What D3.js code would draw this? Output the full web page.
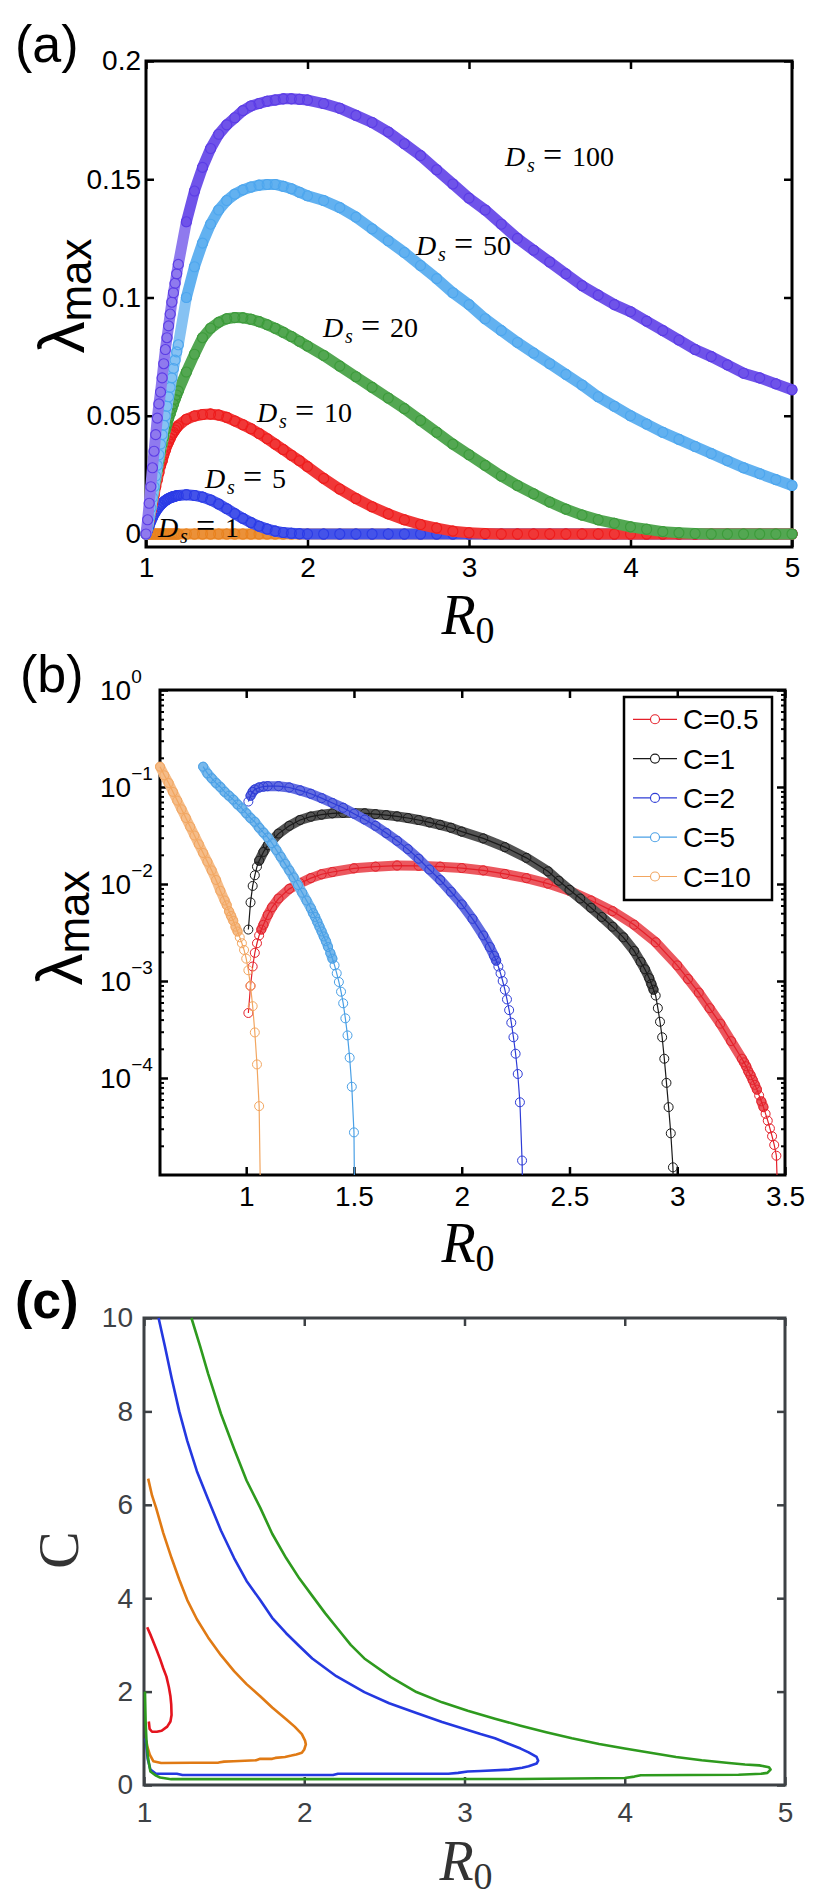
<!DOCTYPE html>
<html><head><meta charset="utf-8">
<script src="https://cdn.jsdelivr.net/npm/d3@7/dist/d3.min.js"></script>
<style>html,body{margin:0;padding:0;background:#fff}svg{display:block}</style>
</head><body>
<svg id="fig" width="816" height="1896" xmlns="http://www.w3.org/2000/svg"></svg>
<script>
// ================= Panel (a) data =================
const r0A = [1.00,1.01,1.02,1.03,1.04,1.05,1.06,1.07,1.08,1.09,
  1.10,1.11,1.12,1.13,1.14,1.15,1.16,1.17,1.18,1.19,
  1.20,1.25,1.30,1.35,1.40,1.45,1.50,1.55,1.60,1.65,
  1.70,1.75,1.80,1.85,1.90,1.95,2.00,2.1,2.2,2.3,
  2.4,2.5,2.6,2.7,2.8,2.9,3.0,3.1,3.2,3.3,
  3.4,3.5,3.6,3.7,3.8,3.9,4.0,4.1,4.2,4.3,
  4.4,4.5,4.6,4.7,4.8,4.9,5.0];
const lamDs1 = [0,0,0,0,0,0,0,0,0,0, 0,0,0,0,0,0,0,0,0,0, 0,0,0,0,0,0,0,0,0,0,
  0,0,0,0,0,0,0,0,0,0, 0,0,0,0,0,0,0,0,0,0, 0,0,0,0,0,0,0,0,0,0, 0,0,0,0,0,0,0];
const lamDs5 = [0,.0017,.0036,.0054,.0070,.0084,.0096,.0106,.0115,.0123,
  .0130,.0136,.0141,.0146,.0150,.0153,.0156,.0158,.0160,.0162,
  .0163,.0166,.0163,.0156,.0144,.0127,.0107,.0086,.0066,.0048,
  .0033,.0021,.0012,.0006,.0003,.0001,0,0,0,0,
  0,0,0,0,0,0,0,0,0,0, 0,0,0,0,0,0,0,0,0,0, 0,0,0,0,0,0,0];
const lamDs10 = [0,.003,.006,.0095,.013,.0165,.020,.023,.026,.029,
  .031,.0335,.0355,.0375,.039,.0405,.042,.043,.044,.045,
  .0458,.0485,.0499,.0505,.0507,.0503,.0493,.0478,.0462,.0445,
  .0425,.0403,.038,.0357,.0333,.031,.0285,.0235,.019,.015,
  .0115,.0085,.006,.004,.0025,.0012,.0005,.0002,0,0,
  0,0,0,0,0,0,0,0,0,0, 0,0,0,0,0,0,0];
const lamDs20 = [0,.003,.007,.011,.015,.019,.023,.027,.031,.035,
  .038,.041,.044,.0465,.049,.051,.053,.055,.057,.0588,
  .0605,.0685,.076,.083,.087,.0895,.091,.0915,.0914,.0908,
  .0898,.0885,.087,.0853,.0835,.0815,.0795,.0755,.071,.0665,
  .062,.0575,.053,.048,.043,.038,.0335,.029,.0245,.0205,
  .017,.0135,.0105,.008,.006,.0045,.003,.002,.001,.0005,
  .0002,0,0,0,0,0,0];
const lamDs50 = [0,.003,.007,.011,.0155,.020,.0245,.029,.0335,.038,
  .042,.046,.050,.054,.058,.062,.066,.070,.0735,.077,
  .080,.100,.113,.123,.131,.137,.141,.1437,.1455,.1467,
  .1475,.1478,.1478,.147,.146,.1445,.143,.141,.138,.134,
  .129,.124,.119,.1135,.108,.102,.097,.091,.086,.081,
  .0765,.072,.0675,.063,.058,.054,.050,.0465,.043,.040,
  .037,.034,.031,.028,.0255,.023,.0205];
const lamDs100 = [0,.006,.013,.020,.028,.035,.042,.049,.055,.060,
  .066,.072,.078,.083,.088,.093,.098,.102,.106,.110,
  .114,.132,.145,.155,.163,.169,.173,.176,.179,.181,
  .182,.183,.1835,.184,.184,.1838,.1835,.182,.180,.177,
  .174,.170,.165,.160,.154,.148,.142,.137,.131,.125,
  .120,.115,.110,.105,.101,.097,.094,.090,.086,.082,
  .078,.075,.0715,.068,.066,.0635,.061];
const dsNames = ["1","5","10","20","50","100"];
const dsColors = ["#E8821E","#2B3BE6","#EE1C1C","#3C9B3A","#4DA6EE","#5B3CE6"];
const xTicksA = [1,2,3,4,5], xLabelsA = ["1","2","3","4","5"];
const yTicksA = [0,0.05,0.1,0.15,0.2], yLabelsA = ["0","0.05","0.1","0.15","0.2"];

// ================= Panel (b) data =================
const r0C05 = [1.01,1.02,1.03,1.04,1.05,1.06,1.07,1.08,1.10,1.12,1.15,1.20,1.25,1.30,1.35,1.40,
  1.50,1.60,1.70,1.80,1.90,2.00,2.10,2.20,2.30,2.40,2.50,2.60,2.70,2.80,2.90,3.00,
  3.05,3.10,3.15,3.20,3.25,3.30,3.31,3.32,3.33,3.34,3.35,3.36,3.37,3.38,3.39,3.40,3.41,3.42,3.43,3.44,3.45,3.46,3.47];
const lamC05 = [4.68e-4,8.91e-4,1.41e-3,1.95e-3,2.45e-3,2.95e-3,3.39e-3,3.80e-3,4.79e-3,5.75e-3,7.08e-3,8.91e-3,1.02e-2,1.15e-2,1.26e-2,1.33e-2,
  1.45e-2,1.51e-2,1.55e-2,1.54e-2,1.51e-2,1.46e-2,1.38e-2,1.27e-2,1.15e-2,1.01e-2,8.51e-3,6.76e-3,5.25e-3,3.80e-3,2.51e-3,1.45e-3,
  1.05e-3,7.59e-4,5.25e-4,3.63e-4,2.40e-4,1.58e-4,1.45e-4,1.32e-4,1.17e-4,1.07e-4,9.55e-5,8.51e-5,7.59e-5,6.61e-5,5.75e-5,5.01e-5,4.27e-5,3.63e-5,3.02e-5,2.51e-5,2.04e-5,1.58e-5,3.2e-6];
const r0C1 = [1.01,1.02,1.03,1.04,1.05,1.06,1.08,1.10,
  1.15,1.20,1.25,1.30,1.35,1.40,1.45,1.50,1.55,1.60,1.65,1.70,1.75,1.80,1.85,1.90,1.95,2.00,
  2.10,2.20,2.30,2.40,2.45,2.50,2.55,2.60,2.65,2.70,2.75,2.80,2.83,2.85,2.87,
  2.88,2.89,2.90,2.91,2.92,2.93,2.94,2.95,2.96,2.97,2.98,2.99];
const lamC1 = [3.39e-3,6.46e-3,9.55e-3,1.23e-2,1.51e-2,1.74e-2,2.14e-2,2.51e-2,
  3.31e-2,3.98e-2,4.57e-2,4.95e-2,5.19e-2,5.35e-2,5.40e-2,5.40e-2,5.35e-2,5.25e-2,5.13e-2,4.98e-2,4.79e-2,4.57e-2,4.32e-2,4.07e-2,3.80e-2,3.47e-2,
  2.95e-2,2.40e-2,1.86e-2,1.35e-2,1.08e-2,8.71e-3,7.08e-3,5.69e-3,4.57e-3,3.63e-3,2.82e-3,2.04e-3,1.58e-3,1.32e-3,1.07e-3,
  9.33e-4,8.13e-4,7.08e-4,5.25e-4,3.80e-4,2.63e-4,1.58e-4,8.91e-5,5.01e-5,2.69e-5,1.20e-5,1e-6];
const r0C2 = [1.01,1.02,1.03,1.04,1.06,1.08,1.10,
  1.15,1.20,1.25,1.30,1.35,1.40,1.45,1.50,1.55,1.60,1.65,1.70,1.75,1.80,1.85,1.90,1.95,2.00,2.05,2.10,
  2.13,2.15,2.16,2.17,2.18,2.19,2.20,2.21,2.22,2.23,2.24,2.25,2.26,2.27,2.28,2.29];
const lamC2 = [7.08e-2,8.13e-2,8.91e-2,9.44e-2,9.89e-2,0.101,0.102,
  0.102,9.89e-2,9.23e-2,8.51e-2,7.67e-2,6.84e-2,6.10e-2,5.31e-2,4.62e-2,3.98e-2,3.35e-2,2.79e-2,2.29e-2,1.82e-2,1.41e-2,1.10e-2,8.32e-3,6.17e-3,4.37e-3,2.95e-3,
  2.24e-3,1.82e-3,1.62e-3,1.41e-3,1.20e-3,1.00e-3,8.13e-4,6.46e-4,5.01e-4,3.72e-4,2.63e-4,1.78e-4,1.10e-4,5.62e-5,1.41e-5,1e-6];
const r0C5 = [0.80,0.82,0.84,0.86,0.88,0.90,0.92,0.94,0.96,0.98,1.00,1.02,1.04,1.06,1.08,1.10,1.12,1.14,1.16,1.18,1.20,1.22,1.24,1.26,1.28,1.30,
  1.31,1.32,1.33,1.34,1.35,1.36,1.37,1.38,1.39,1.40,1.41,1.42,1.43,1.44,1.45,1.46,1.47,1.48,1.49,1.50,1.51];
const lamC5 = [0.162,0.138,0.123,0.110,0.100,8.91e-2,8.13e-2,7.41e-2,6.61e-2,6.03e-2,5.37e-2,4.79e-2,4.37e-2,3.80e-2,3.39e-2,3.02e-2,2.63e-2,2.24e-2,1.91e-2,1.62e-2,1.38e-2,1.17e-2,9.77e-3,8.13e-3,6.76e-3,5.62e-3,
  5.01e-3,4.57e-3,4.07e-3,3.63e-3,3.24e-3,2.88e-3,2.57e-3,2.24e-3,1.95e-3,1.70e-3,1.45e-3,1.20e-3,9.77e-4,7.76e-4,5.89e-4,4.12e-4,2.75e-4,1.62e-4,8.13e-5,2.75e-5,1e-7];
const r0C10 = [0.60,0.62,0.64,0.66,0.68,0.70,0.72,0.74,0.76,0.78,0.80,0.82,0.84,0.86,0.88,0.90,
  0.91,0.92,0.93,0.94,0.95,0.96,0.97,0.98,0.99,1.00,1.01,1.02,1.03,1.04,1.05,1.06,1.07];
const lamC10 = [0.162,0.132,0.110,8.91e-2,7.24e-2,5.89e-2,4.79e-2,3.89e-2,3.16e-2,2.57e-2,2.09e-2,1.70e-2,1.38e-2,1.10e-2,8.51e-3,6.76e-3,
  6.03e-3,5.25e-3,4.68e-3,4.17e-3,3.63e-3,3.24e-3,2.82e-3,2.45e-3,2.09e-3,1.70e-3,1.29e-3,8.91e-4,5.50e-4,2.95e-4,1.38e-4,5.13e-5,1.6e-6];
const cNames = ["C=0.5","C=1","C=2","C=5","C=10"];
const cColors = ["#E4202A","#1A1A1A","#2E3CD6","#4AA0E6","#F2A660"];
const xTicksB = [1,1.5,2,2.5,3,3.5], xLabelsB = ["1","1.5","2","2.5","3","3.5"];
const yTicksB = [1e-4,1e-3,1e-2,1e-1,1], yExpB = ["\u22124","\u22123","\u22122","\u22121","0"];

// ================= Panel (c) data =================
const redR0 = [1.02,1.04,1.06,1.08,1.10,1.12,1.14,1.155,1.165,1.17,1.172,1.165,1.145,1.11,1.08,1.05,1.035,1.03];
const redC  = [3.38,3.22,3.05,2.88,2.70,2.50,2.32,2.10,1.90,1.72,1.50,1.36,1.25,1.16,1.14,1.14,1.20,1.36];
const orangeR0 = [1.026,1.05,1.075,1.12,1.172,1.22,1.27,1.33,1.40,1.48,1.562,1.64,1.725,1.80,1.887,1.94,1.985,2.005,2.01,2.0,1.985,1.95,1.92,1.88,1.82,1.80,1.725,1.70,1.56,1.50,1.465,1.30,1.107,1.058,1.036,1.02,1.015];
const orangeC  = [6.56,6.20,5.94,5.40,4.86,4.40,3.96,3.55,3.16,2.78,2.44,2.16,1.90,1.66,1.41,1.25,1.09,0.95,0.87,0.76,0.69,0.655,0.63,0.60,0.58,0.56,0.56,0.53,0.51,0.50,0.48,0.475,0.47,0.51,0.65,0.83,0.95];
const blueR0 = [1.091,1.13,1.172,1.22,1.27,1.33,1.40,1.48,1.562,1.64,1.725,1.80,1.887,1.97,2.05,2.2,2.375,2.53,2.70,2.86,3.02,3.10,3.19,3.27,3.35,3.40,3.45,3.46,3.45,3.40,3.36,3.28,3.10,3.02,2.96,2.90,2.21,2.18,1.24,1.205,1.075,1.04,1.023,1.013,1.01];
const blueC  = [10,9.4,8.72,8.0,7.37,6.72,6.12,5.45,4.86,4.37,3.96,3.58,3.25,2.97,2.71,2.33,1.99,1.75,1.54,1.35,1.18,1.09,1.0,0.89,0.78,0.70,0.60,0.52,0.46,0.40,0.37,0.33,0.30,0.29,0.26,0.24,0.24,0.215,0.215,0.24,0.24,0.33,0.56,0.91,1.0];
const greenR0 = [1.296,1.35,1.40,1.48,1.562,1.64,1.725,1.80,1.887,1.97,2.05,2.13,2.21,2.29,2.375,2.54,2.70,2.86,3.02,3.19,3.35,3.51,3.67,3.84,4.0,4.16,4.32,4.48,4.65,4.75,4.84,4.90,4.91,4.89,4.85,4.71,4.10,4.06,4.0,3.35,2.05,1.17,1.10,1.075,1.04,1.026,1.016,1.01,1.006];
const greenC  = [10,9.4,8.81,7.95,7.2,6.52,5.94,5.38,4.86,4.42,4.05,3.68,3.34,3.00,2.71,2.31,1.99,1.77,1.59,1.42,1.27,1.13,1.0,0.88,0.78,0.69,0.60,0.53,0.47,0.44,0.42,0.38,0.33,0.26,0.24,0.22,0.21,0.18,0.15,0.13,0.125,0.125,0.16,0.20,0.29,0.56,0.91,1.36,2.0];
const contourColors = ["#E4141E","#E07A14","#2438E0","#2E9A1E"];
const xTicksC = [1,2,3,4,5], xLabelsC = ["1","2","3","4","5"];
const yTicksC = [0,2,4,6,8,10], yLabelsC = ["0","2","4","6","8","10"];

// ================= drawing =================
const svg = d3.select("#fig");
const SANS = "'Liberation Sans', Arial, Helvetica, sans-serif";
const SERIF = "'Liberation Serif', 'Times New Roman', serif";
const mix = (c, t) => d3.interpolateRgb(c, "#ffffff")(t);

function styleAxis(s, color, tw) {
  s.select(".domain").remove();
  s.attr("font-family", SANS).attr("font-size", 28);
  s.selectAll(".tick line").attr("stroke", color).attr("stroke-width", tw);
  s.selectAll(".tick text").attr("fill", color);
}
function frame(g, r, x, y, o) {
  const col = o.color, tl = 8;
  g.append("g").attr("transform", `translate(0,${r.b})`)
    .call(d3.axisBottom(x).tickValues(o.xt).tickFormat((d, i) => o.xl[i]).tickSize(-tl).tickPadding(o.xp))
    .call(s => styleAxis(s, col, 2.5));
  g.append("g").attr("transform", `translate(0,${r.t})`)
    .call(d3.axisTop(x).tickValues(o.xt).tickFormat("").tickSize(-tl))
    .call(s => { styleAxis(s, col, 2.5); s.selectAll(".tick text").remove(); });
  g.append("g").attr("transform", `translate(${r.l},0)`)
    .call(d3.axisLeft(y).tickValues(o.yt).tickFormat(o.yl ? (d, i) => o.yl[i] : "").tickSize(-tl).tickPadding(o.yp || 5))
    .call(s => { styleAxis(s, col, 2.5); if (!o.yl) s.selectAll(".tick text").remove(); });
  g.append("g").attr("transform", `translate(${r.r},0)`)
    .call(d3.axisRight(y).tickValues(o.yt).tickFormat("").tickSize(-tl))
    .call(s => { styleAxis(s, col, 2.5); s.selectAll(".tick text").remove(); });
  g.append("rect").attr("x", r.l).attr("y", r.t).attr("width", r.r - r.l).attr("height", r.b - r.t)
    .attr("fill", "none").attr("stroke", col).attr("stroke-width", 3);
}
function panelLabel(txt, x, y, bold) {
  svg.append("text").attr("x", x).attr("y", y).attr("font-family", SANS).attr("font-size", 52)
    .attr("font-weight", bold ? "bold" : "normal").text(txt);
}
function r0Label(cx, y, color) {
  const t = svg.append("text").attr("x", cx).attr("y", y).attr("text-anchor", "middle")
    .attr("font-family", SERIF).attr("fill", color || "#000");
  t.append("tspan").attr("font-size", 56).attr("font-style", "italic").text("R");
  t.append("tspan").attr("font-size", 38).attr("dy", 9).text("0");
}
function lambdaLabel(x, cy) {
  const t = svg.append("text").attr("transform", `translate(${x},${cy}) rotate(-90)`)
    .attr("text-anchor", "middle").attr("font-family", SANS);
  t.append("tspan").attr("font-size", 64).text("\u03bb");
  t.append("tspan").attr("font-size", 44).attr("dy", 7).text("max");
}

// ---------- Panel (a) ----------
const A = {l: 146, r: 792, t: 61, b: 547};
const xA = d3.scaleLinear().domain([1, 5]).range([A.l, A.r]);
const yA = d3.scaleLinear().domain([-0.0055, 0.2]).range([A.b, A.t]);
const gA = svg.append("g");
frame(gA, A, xA, yA, {color: "#000", xt: xTicksA, xl: xLabelsA, xp: 10, yt: yTicksA, yl: yLabelsA, yp: 5});
const seriesA = [lamDs1, lamDs5, lamDs10, lamDs20, lamDs50, lamDs100];
seriesA.forEach((vals, si) => {
  const c = dsColors[si];
  const pts = r0A.map((r, i) => [xA(r), yA(vals[i]), r]);
  const g = gA.append("g");
  const segs = d3.range(pts.length - 1).map(i => {
    const a = pts[i], b = pts[i + 1];
    const per = Math.abs(b[1] - a[1]) / ((b[2] - a[2]) / 0.01);
    return {a, b, steep: per > 7};
  });
  [true, false].forEach(st => {
    g.selectAll(null).data(segs.filter(s => s.steep === st)).join("line")
      .attr("x1", d => d.a[0]).attr("y1", d => d.a[1]).attr("x2", d => d.b[0]).attr("y2", d => d.b[1])
      .attr("stroke", mix(c, st ? 0.32 : 0.12)).attr("stroke-width", 11).attr("stroke-linecap", "round");
  });
  g.selectAll("circle").data(pts).join("circle")
    .attr("cx", d => d[0]).attr("cy", d => d[1]).attr("r", 5)
    .attr("fill", "none").attr("stroke", c).attr("stroke-width", 1.1);
});
// annotations
const annA = [[505, 166], [416, 255], [323, 337], [257, 422], [205, 488], [158, 537]];
const annOrder = ["100", "50", "20", "10", "5", "1"];
annOrder.forEach((n, i) => {
  const [x0, yb] = annA[i];
  const t = gA.append("text").attr("font-family", SERIF).attr("font-size", 28).attr("y", yb);
  t.append("tspan").attr("x", x0).attr("font-style", "italic").text("D");
  t.append("tspan").attr("x", x0 + 22).attr("dy", 6).attr("font-size", 20).attr("font-style", "italic").text("s");
  t.append("tspan").attr("x", x0 + 38).attr("dy", -6).attr("font-size", 34).text("=");
  t.append("tspan").attr("x", x0 + 67).text(n);
});
panelLabel("(a)", 15, 62, false);
r0Label(468, 634);
lambdaLabel(84, 296);

// ---------- Panel (b) ----------
const B = {l: 160, r: 785, t: 690, b: 1175};
const xB = d3.scaleLinear().domain([0.6, 3.5]).range([B.l, B.r]);
const yB = d3.scaleLog().domain([1e-5, 1]).range([B.b, B.t]);
const gB = svg.append("g");
frame(gB, B, xB, yB, {color: "#000", xt: xTicksB, xl: xLabelsB, xp: 11, yt: yTicksB, yl: null});
const minorB = [];
[-5, -4, -3, -2, -1].forEach(e => [2, 3, 4, 5, 6, 7, 8, 9].forEach(k => minorB.push(k * Math.pow(10, e))));
gB.append("g").attr("transform", `translate(${B.l},0)`).call(d3.axisLeft(yB).tickValues(minorB).tickFormat("").tickSize(-4))
  .call(s => { styleAxis(s, "#000", 2); s.selectAll(".tick text").remove(); });
gB.append("g").attr("transform", `translate(${B.r},0)`).call(d3.axisRight(yB).tickValues(minorB).tickFormat("").tickSize(-4))
  .call(s => { styleAxis(s, "#000", 2); s.selectAll(".tick text").remove(); });
yTicksB.forEach((v, i) => {
  const t = gB.append("text").attr("x", 100).attr("y", yB(v) + 10).attr("font-family", SANS).attr("font-size", 28);
  t.append("tspan").text("10");
  t.append("tspan").attr("dy", -17).attr("font-size", 19).text(yExpB[i]);
});
svg.append("defs").append("clipPath").attr("id", "clipB").append("rect")
  .attr("x", B.l - 6).attr("y", B.t - 10).attr("width", B.r - B.l + 16).attr("height", B.b - B.t + 10);
const dataB = [[r0C05, lamC05], [r0C1, lamC1], [r0C2, lamC2], [r0C5, lamC5], [r0C10, lamC10]];
const gBd = gB.append("g").attr("clip-path", "url(#clipB)");
dataB.forEach(([xs, vs], si) => {
  const c = cColors[si];
  const pts = xs.map((r, i) => [xB(r), yB(Math.max(vs[i], 1e-9)), r, vs[i]]);
  const g = gBd.append("g");
  const segs = d3.range(pts.length - 1).map(i => {
    const a = pts[i], b = pts[i + 1], st = (b[2] - a[2]) / 0.01;
    return {a, b, d: Math.hypot((b[0] - a[0]) / st, (b[1] - a[1]) / st)};
  }).filter(s => s.d < 6.2);
  g.selectAll("line").data(segs).join("line")
    .attr("x1", d => d.a[0]).attr("y1", d => d.a[1]).attr("x2", d => d.b[0]).attr("y2", d => d.b[1])
    .attr("stroke", mix(c, 0.25)).attr("stroke-width", 10).attr("stroke-linecap", "round");
  g.append("path").attr("d", d3.line()(pts.map(p => [p[0], p[1]]))).attr("fill", "none")
    .attr("stroke", c).attr("stroke-width", 1.2);
  g.selectAll("circle").data(pts.filter(p => p[3] >= 1e-5)).join("circle")
    .attr("cx", d => d[0]).attr("cy", d => d[1]).attr("r", 4.5)
    .attr("fill", "none").attr("stroke", c).attr("stroke-width", 1);
});
// legend
const lg = gB.append("g");
lg.append("rect").attr("x", 624).attr("y", 697).attr("width", 148).attr("height", 203)
  .attr("fill", "#fff").attr("stroke", "#000").attr("stroke-width", 2.5);
cNames.forEach((n, i) => {
  const yy = 719.3 + i * 39.3;
  lg.append("line").attr("x1", 633).attr("x2", 677).attr("y1", yy).attr("y2", yy).attr("stroke", cColors[i]).attr("stroke-width", 1.2);
  lg.append("circle").attr("cx", 655).attr("cy", yy).attr("r", 4.5).attr("fill", "#fff").attr("stroke", cColors[i]).attr("stroke-width", 1.1);
  lg.append("text").attr("x", 683).attr("y", yy + 10).attr("font-family", SANS).attr("font-size", 28).text(n);
});
panelLabel("(b)", 20, 692, false);
r0Label(468, 1262);
lambdaLabel(82, 928);

// ---------- Panel (c) ----------
const Cr = {l: 144, r: 785, t: 1318, b: 1785};
const xC = d3.scaleLinear().domain([1, 5]).range([Cr.l, Cr.r]);
const yC = d3.scaleLinear().domain([0, 10]).range([Cr.b, Cr.t]);
const gC = svg.append("g");
const GREY = "#3d4145";
frame(gC, Cr, xC, yC, {color: GREY, xt: xTicksC, xl: xLabelsC, xp: 17, yt: yTicksC, yl: yLabelsC, yp: 11});
const contours = [[redR0, redC], [orangeR0, orangeC], [blueR0, blueC], [greenR0, greenC]];
contours.forEach(([xs, cs], i) => {
  gC.append("path").attr("d", d3.line().x(d => xC(d[0])).y(d => yC(d[1]))(xs.map((r, j) => [r, cs[j]])))
    .attr("fill", "none").attr("stroke", contourColors[i]).attr("stroke-width", 2.6).attr("stroke-linejoin", "round");
});
panelLabel("(c)", 15, 1318, true);
r0Label(466, 1880, "#333");
svg.append("text").attr("transform", "translate(78,1550) rotate(-90)").attr("text-anchor", "middle")
  .attr("font-family", SERIF).attr("font-size", 56).attr("fill", "#333").text("C");
</script>
</body></html>
